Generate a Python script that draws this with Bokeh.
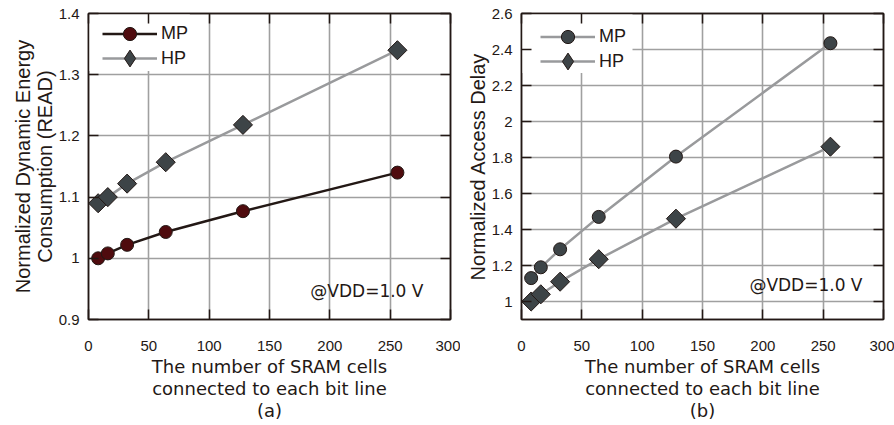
from bokeh.plotting import figure
from bokeh.models import (LinearAxis, Range1d, FixedTicker, Label, Legend,
                          LegendItem, PrintfTickFormatter, BoxAnnotation)
from bokeh.layouts import row
from bokeh.embed import file_html
from bokeh.resources import INLINE

# ---- data ----
cells = [8, 16, 32, 64, 128, 256]
energy_mp = [1.000, 1.008, 1.022, 1.043, 1.077, 1.140]
energy_hp = [1.090, 1.100, 1.122, 1.157, 1.218, 1.340]
delay_mp = [1.13, 1.19, 1.29, 1.47, 1.805, 2.435]
delay_hp = [1.00, 1.04, 1.11, 1.235, 1.46, 1.86]
x_ticks = [0, 50, 100, 150, 200, 250, 300]
energy_ticks = [0.9, 1.0, 1.1, 1.2, 1.3, 1.4]
delay_ticks = [1.0, 1.2, 1.4, 1.6, 1.8, 2.0, 2.2, 2.4, 2.6]

SANS = "Liberation Sans"
XFONT = "DejaVu Sans"
FRAME = "#231815"
GRID = "#a0a0a0"
TXT = "#231815"
LINE_GRAY = "#999a9c"
MP_RED = "#4f0b0e"
DARK = "#3d4447"


def style(p, yticks, xlabel, ylabel):
    p.xaxis.ticker = FixedTicker(ticks=x_ticks)
    p.yaxis.ticker = FixedTicker(ticks=yticks)
    p.xgrid.ticker = FixedTicker(ticks=x_ticks)
    p.ygrid.ticker = FixedTicker(ticks=yticks)
    p.grid.grid_line_color = GRID
    p.grid.grid_line_width = 1.6
    p.yaxis.formatter = PrintfTickFormatter(format="%g")
    for ax in p.xaxis + p.yaxis:
        ax.major_tick_in = 10
        ax.major_tick_out = 0
        ax.minor_tick_line_color = None
        ax.major_tick_line_color = FRAME
        ax.major_tick_line_width = 1.5
        ax.axis_line_color = FRAME
        ax.axis_line_width = 1.5
        ax.major_label_text_font = SANS
        ax.major_label_text_font_size = "15px"
        ax.major_label_text_color = TXT
    p.xaxis.major_label_standoff = 21
    p.yaxis.major_label_standoff = 9
    p.xaxis.axis_label = xlabel
    p.xaxis.axis_label_text_font = XFONT
    p.xaxis.axis_label_text_font_style = "normal"
    p.xaxis.axis_label_text_font_size = "18px"
    p.xaxis.axis_label_text_color = TXT
    p.xaxis.axis_label_text_line_height = 1.07
    p.xaxis.axis_label_standoff = 2
    p.yaxis.axis_label = ylabel
    p.yaxis.axis_label_text_font = SANS
    p.yaxis.axis_label_text_font_style = "normal"
    p.yaxis.axis_label_text_font_size = "20px"
    p.yaxis.axis_label_text_color = TXT
    p.yaxis.axis_label_text_line_height = 1.0
    p.yaxis.axis_label_standoff = 0
    for place, tk in (("right", yticks), ("above", x_ticks)):
        ax = LinearAxis(ticker=FixedTicker(ticks=tk), major_tick_in=10,
                        major_tick_out=0, minor_tick_line_color=None,
                        major_tick_line_color=FRAME, major_tick_line_width=1.5,
                        axis_line_color=FRAME, axis_line_width=1.5,
                        major_label_text_font_size="1px",
                        major_label_text_color=None,
                        major_label_standoff=0)
        p.add_layout(ax, place)
    p.outline_line_color = FRAME
    p.outline_line_width = 1.5
    p.background_fill_color = "white"
    p.border_fill_color = "white"


def add_legend_row(p, item, loc, gh):
    lg = Legend(items=[item], location=loc, margin=0, padding=0,
                spacing=0, glyph_width=55, glyph_height=gh, label_standoff=4,
                label_text_font=SANS, label_text_font_size="18px",
                label_text_color=TXT, border_line_color=None,
                background_fill_alpha=0.0)
    p.add_layout(lg)


# ---- (a) energy ----
p1 = figure(width=460, height=425, output_backend="svg", toolbar_location=None,
            x_range=Range1d(0, 300), y_range=Range1d(0.9, 1.4),
            min_border_left=88, min_border_right=10, min_border_top=12,
            min_border_bottom=106)
style(p1, energy_ticks,
      "The number of SRAM cells\nconnected to each bit line\n(a)",
      "Normalized Dynamic Energy\nConsumption (READ)")
# white legend background
p1.add_layout(BoxAnnotation(left=0, right=84, top=1.4, bottom=1.306,
                            fill_color="white", fill_alpha=1.0,
                            line_color=None, level="underlay"))
hl = p1.line(cells, energy_hp, line_color=LINE_GRAY, line_width=2.5)
hm = p1.scatter(cells, energy_hp, marker="square", angle=0.785398, size=13.5,
                fill_color=DARK, line_color=FRAME, line_width=1)
hk = p1.scatter(cells, energy_hp, marker="diamond", size=18,
                fill_color=DARK, line_color=FRAME, line_width=1, visible=False)
ml = p1.line(cells, energy_mp, line_color=FRAME, line_width=2.5)
mm = p1.scatter(cells, energy_mp, marker="circle", size=13,
                fill_color=MP_RED, line_color=FRAME, line_width=1)
add_legend_row(p1, LegendItem(label="MP", renderers=[ml, mm]), (14, 269), 33)
add_legend_row(p1, LegendItem(label="HP", renderers=[hl, hk]), (14, 240), 42)
p1.add_layout(Label(x=277.6, y=0.947, text="@VDD=1.0 V", text_align="right",
                    text_baseline="middle", text_font=XFONT,
                    text_font_size="17px", text_color=TXT))

# ---- (b) delay ----
p2 = figure(width=434, height=425, output_backend="svg", toolbar_location=None,
            x_range=Range1d(0, 300), y_range=Range1d(0.9, 2.6),
            min_border_left=61, min_border_right=11, min_border_top=13,
            min_border_bottom=106)
style(p2, delay_ticks,
      "The number of SRAM cells\nconnected to each bit line\n(b)",
      "Normalized Access Delay")
p2.add_layout(BoxAnnotation(left=0, right=92, top=2.6, bottom=2.27,
                            fill_color="white", fill_alpha=1.0,
                            line_color=None, level="underlay"))
ml2 = p2.line(cells, delay_mp, line_color=LINE_GRAY, line_width=2.5)
mm2 = p2.scatter(cells, delay_mp, marker="circle", size=13,
                 fill_color=DARK, line_color=FRAME, line_width=1)
hl2 = p2.line(cells, delay_hp, line_color=LINE_GRAY, line_width=2.5)
hm2 = p2.scatter(cells, delay_hp, marker="square", angle=0.785398, size=13.5,
                 fill_color=DARK, line_color=FRAME, line_width=1)
hk2 = p2.scatter(cells, delay_hp, marker="diamond", size=18,
                 fill_color=DARK, line_color=FRAME, line_width=1, visible=False)
add_legend_row(p2, LegendItem(label="MP", renderers=[ml2, mm2]), (19, 266), 33)
add_legend_row(p2, LegendItem(label="HP", renderers=[hl2, hk2]), (19, 237), 42)
p2.add_layout(Label(x=282.6, y=1.089, text="@VDD=1.0 V", text_align="right",
                    text_baseline="middle", text_font=XFONT,
                    text_font_size="17px", text_color=TXT))

layout = row(p1, p2)
open("out.html", "w").write(file_html(layout, INLINE))
